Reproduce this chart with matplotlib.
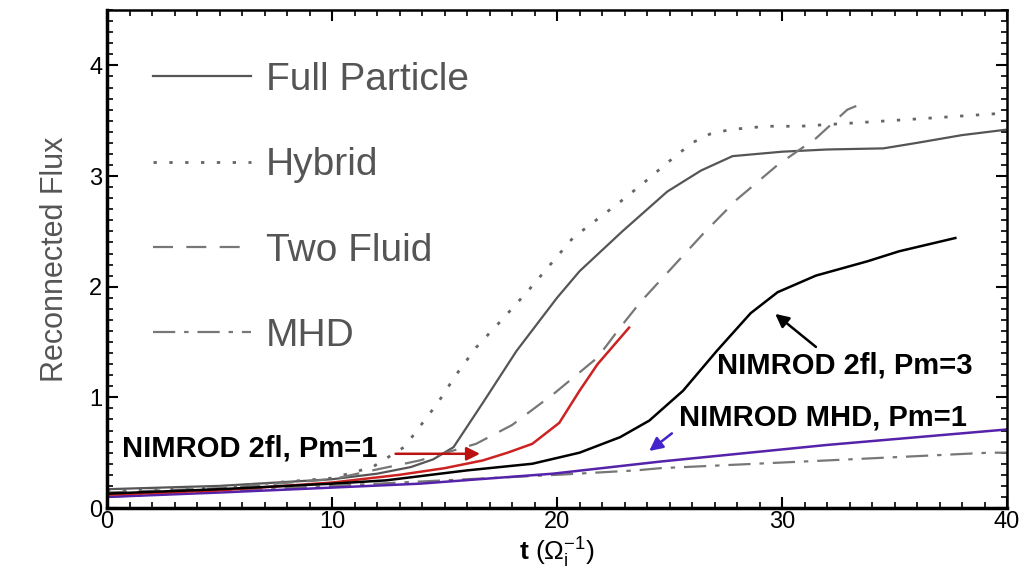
import matplotlib
matplotlib.use("Agg")
import matplotlib.pyplot as plt
from matplotlib.ticker import MultipleLocator

plt.rcParams["font.family"] = ["Liberation Sans", "DejaVu Sans"]
plt.rcParams["mathtext.fontset"] = "custom"
plt.rcParams["mathtext.rm"] = "Liberation Sans"
plt.rcParams["mathtext.it"] = "Liberation Sans:italic"
plt.rcParams["mathtext.bf"] = "Liberation Sans:bold"

# ---- data ----
t_full = [0, 5, 10, 12, 13.5, 14.5, 15.4, 16.7, 18.2, 20, 21, 22.9, 24.9, 26.4, 27.8, 30, 32, 34.5, 36, 38, 40]
y_full = [0.17, 0.2, 0.26, 0.31, 0.37, 0.44, 0.55, 0.95, 1.42, 1.9, 2.14, 2.5, 2.86, 3.05, 3.18, 3.22, 3.24, 3.25, 3.3, 3.37, 3.42]

t_hyb = [0, 5, 10, 11.8, 13.2, 13.7, 14.1, 14.7, 15.5, 16.4, 17.5, 18.7, 19.7, 20.7, 21.4, 22.7, 23.8, 24.9, 26.0, 26.8, 27.7, 29.3, 30.8, 33.2, 36.3, 40]
y_hyb = [0.15, 0.19, 0.27, 0.37, 0.55, 0.68, 0.79, 0.95, 1.2, 1.45, 1.69, 1.96, 2.2, 2.44, 2.55, 2.75, 2.93, 3.12, 3.3, 3.38, 3.42, 3.45, 3.45, 3.48, 3.52, 3.57]

t_two = [0, 5, 10, 11.8, 13.9, 16.4, 18, 19.9, 21.8, 22.8, 23.7, 26.5, 28, 29.8, 31.5, 32.9, 33.5]
y_two = [0.14, 0.18, 0.26, 0.34, 0.43, 0.58, 0.75, 1.04, 1.36, 1.63, 1.86, 2.48, 2.79, 3.1, 3.34, 3.6, 3.65]

t_mhd = [0, 10, 20, 23.5, 24.6, 32, 39.2, 40]
y_mhd = [0.1, 0.2, 0.3, 0.34, 0.36, 0.43, 0.5, 0.5]

t_nmhd = [0, 5, 9.5, 13.9, 19.8, 24.6, 32, 40]
y_nmhd = [0.1, 0.14, 0.18, 0.22, 0.31, 0.42, 0.57, 0.71]

t_n2fl3 = [0, 5, 10, 12.4, 16, 18.9, 21, 22.8, 24.1, 25.6, 27.1, 28.6, 29.8, 31.5, 33.8, 35.2, 37.7]
y_n2fl3 = [0.13, 0.17, 0.22, 0.25, 0.34, 0.4, 0.5, 0.64, 0.79, 1.06, 1.42, 1.76, 1.95, 2.1, 2.23, 2.32, 2.44]

t_n2fl1 = [0, 5, 10, 13, 15, 16.7, 17.8, 18.9, 20.1, 21, 21.8, 23.2]
y_n2fl1 = [0.12, 0.16, 0.23, 0.3, 0.36, 0.43, 0.5, 0.58, 0.77, 1.06, 1.3, 1.63]

fig = plt.figure(figsize=(10.24, 5.75), dpi=100)
ax = fig.add_axes([0.1045, 0.1165, 0.879, 0.866])

l_full, = ax.plot(t_full, y_full, color="#555555", lw=1.6, label="Full Particle")
l_hyb, = ax.plot(t_hyb, y_hyb, color="#666666", lw=2.0, linestyle=(0, (1.2, 4.5)), label="Hybrid")
l_two, = ax.plot(t_two, y_two, color="#777777", lw=1.6, linestyle=(0, (9, 6)), label="Two Fluid")
l_mhd, = ax.plot(t_mhd, y_mhd, color="#777777", lw=1.6, linestyle=(0, (10, 4, 2, 4)), label="MHD")

ax.plot(t_nmhd, y_nmhd, color="#5522aa", lw=1.8)
ax.plot(t_n2fl1, y_n2fl1, color="#cc2222", lw=1.8)
ax.plot(t_n2fl3, y_n2fl3, color="black", lw=1.8)

# ---- annotations ----
fs_ann = 21
ax.text(0.67, 0.54, "NIMROD 2fl, Pm=1", fontsize=fs_ann, fontweight="bold", ha="left", va="center")
ax.annotate("", xy=(16.7, 0.49), xytext=(12.7, 0.49),
            arrowprops=dict(arrowstyle="-|>", color="#bb1111", lw=1.8, mutation_scale=20))
ax.text(27.1, 1.29, "NIMROD 2fl, Pm=3", fontsize=fs_ann, fontweight="bold", ha="left", va="center")
ax.annotate("", xy=(29.6, 1.77), xytext=(31.6, 1.44),
            arrowprops=dict(arrowstyle="-|>", color="black", lw=1.8, mutation_scale=20))
ax.text(25.4, 0.82, "NIMROD MHD, Pm=1", fontsize=fs_ann, fontweight="bold", ha="left", va="center")
ax.annotate("", xy=(24.0, 0.5), xytext=(25.2, 0.69),
            arrowprops=dict(arrowstyle="-|>", color="#4422cc", lw=1.8, mutation_scale=20))

# ---- axes ----
ax.set_xlim(0, 40)
ax.set_ylim(0, 4.5)
ax.xaxis.set_major_locator(MultipleLocator(10))
ax.xaxis.set_minor_locator(MultipleLocator(1))
ax.yaxis.set_major_locator(MultipleLocator(1))
ax.yaxis.set_minor_locator(MultipleLocator(0.1))
ax.tick_params(which="both", direction="in", top=True, right=True)
ax.tick_params(which="major", length=8, width=1.5, labelsize=17)
ax.tick_params(axis="x", which="major", pad=2)
ax.tick_params(which="minor", length=4, width=1.2)
for s in ["left", "bottom"]:
    ax.spines[s].set_linewidth(2.5)
for s in ["top", "right"]:
    ax.spines[s].set_linewidth(1.8)

ax.set_xlabel(r"$\mathbf{t}\ (\mathrm{\Omega}_\mathrm{i}^{-1})$", fontsize=19, labelpad=2)
ax.set_ylabel("Reconnected Flux", fontsize=22, color="#555555", labelpad=14)

leg = ax.legend(handles=[l_full, l_hyb, l_two, l_mhd], loc="upper left",
                bbox_to_anchor=(0.03, 0.935), frameon=False, fontsize=28,
                handlelength=2.5, handletextpad=0.4, labelspacing=1.27,
                borderpad=0, labelcolor="#555555")

fig.savefig("out.png", dpi=100)
